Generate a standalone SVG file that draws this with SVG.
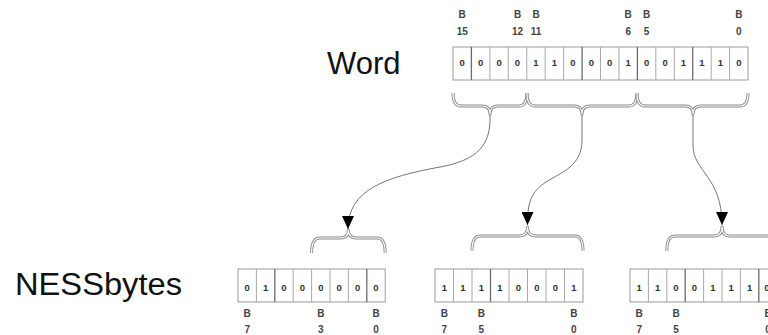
<svg xmlns="http://www.w3.org/2000/svg" width="768" height="335" viewBox="0 0 768 335">
<style>
text{font-family:"Liberation Sans",Arial,sans-serif}
.title{font-size:31px;fill:#111}
.lbl{font-size:10px;font-weight:bold;fill:#444;text-anchor:middle}
.bit{font-size:9.5px;font-weight:bold;fill:#333;text-anchor:middle}
.reg{fill:#fff;stroke:#9a9a9a;stroke-width:1}
.div{stroke:#a8a8a8;stroke-width:1}
.divd{stroke:#6a6a6a;stroke-width:1.3}
.braceo{fill:none;stroke:#8a8a8a;stroke-width:3;stroke-linejoin:round}
.bracei{fill:none;stroke:#fff;stroke-width:1.2;stroke-linejoin:round}
.conn{fill:none;stroke:#777;stroke-width:1}
</style>
<defs>
<marker id="arr" markerUnits="userSpaceOnUse" markerWidth="14" markerHeight="12" refX="13" refY="6" orient="auto">
<path d="M0,0 L13,6 L0,12 z" fill="#000"/>
</marker>
</defs>

<g id="word-label"><text class="title" x="327" y="74">Word</text></g>
<g id="nessbytes-label"><text class="title" x="15" y="295" textLength="167" lengthAdjust="spacingAndGlyphs">NESSbytes</text></g>

<g id="word">
<rect class="reg" x="453" y="47" width="295" height="33"/>
<line class="divd" x1="471.4" y1="47" x2="471.4" y2="80"/>
<line class="div" x1="489.9" y1="47" x2="489.9" y2="80"/>
<line class="div" x1="508.3" y1="47" x2="508.3" y2="80"/>
<line class="div" x1="526.8" y1="47" x2="526.8" y2="80"/>
<line class="div" x1="545.2" y1="47" x2="545.2" y2="80"/>
<line class="div" x1="563.6" y1="47" x2="563.6" y2="80"/>
<line class="divd" x1="582.1" y1="47" x2="582.1" y2="80"/>
<line class="div" x1="600.5" y1="47" x2="600.5" y2="80"/>
<line class="div" x1="619" y1="47" x2="619" y2="80"/>
<line class="divd" x1="637.4" y1="47" x2="637.4" y2="80"/>
<line class="div" x1="655.8" y1="47" x2="655.8" y2="80"/>
<line class="div" x1="674.3" y1="47" x2="674.3" y2="80"/>
<line class="divd" x1="692.7" y1="47" x2="692.7" y2="80"/>
<line class="div" x1="711.2" y1="47" x2="711.2" y2="80"/>
<line class="div" x1="729.6" y1="47" x2="729.6" y2="80"/>
<text class="bit" x="462.2" y="66">0</text>
<text class="bit" x="480.7" y="66">0</text>
<text class="bit" x="499.1" y="66">0</text>
<text class="bit" x="517.5" y="66">0</text>
<text class="bit" x="536" y="66">1</text>
<text class="bit" x="554.4" y="66">1</text>
<text class="bit" x="572.9" y="66">0</text>
<text class="bit" x="591.3" y="66">0</text>
<text class="bit" x="609.7" y="66">0</text>
<text class="bit" x="628.2" y="66">1</text>
<text class="bit" x="646.6" y="66">0</text>
<text class="bit" x="665.1" y="66">0</text>
<text class="bit" x="683.5" y="66">1</text>
<text class="bit" x="701.9" y="66">1</text>
<text class="bit" x="720.4" y="66">1</text>
<text class="bit" x="738.8" y="66">0</text>
<text class="lbl" x="462.2" y="18">B</text><text class="lbl" x="462.2" y="35">15</text>
<text class="lbl" x="517.5" y="18">B</text><text class="lbl" x="517.5" y="35">12</text>
<text class="lbl" x="536" y="18">B</text><text class="lbl" x="536" y="35">11</text>
<text class="lbl" x="628.2" y="18">B</text><text class="lbl" x="628.2" y="35">6</text>
<text class="lbl" x="646.6" y="18">B</text><text class="lbl" x="646.6" y="35">5</text>
<text class="lbl" x="738.8" y="18">B</text><text class="lbl" x="738.8" y="35">0</text>
</g>

<g id="word-braces">
<path class="braceo" d="M453,93 Q453,106 461,106 L482,106 Q490,106 490,114 Q490,106 498,106 L519,106 Q527,106 527,93"/>
<path class="bracei" d="M453,93 Q453,106 461,106 L482,106 Q490,106 490,114 Q490,106 498,106 L519,106 Q527,106 527,93"/>
<path class="braceo" d="M527,93 Q527,106 535,106 L574,106 Q582,106 582,114 Q582,106 590,106 L629,106 Q637,106 637,93"/>
<path class="bracei" d="M527,93 Q527,106 535,106 L574,106 Q582,106 582,114 Q582,106 590,106 L629,106 Q637,106 637,93"/>
<path class="braceo" d="M637,93 Q637,106 645,106 L685,106 Q693,106 693,114 Q693,106 701,106 L740,106 Q748,106 748,93"/>
<path class="bracei" d="M637,93 Q637,106 645,106 L685,106 Q693,106 693,114 Q693,106 701,106 L740,106 Q748,106 748,93"/>
</g>

<g id="byte-left">
<rect class="reg" x="238" y="269" width="147.2" height="33"/>
<line class="div" x1="256.4" y1="269" x2="256.4" y2="302"/>
<line class="divd" x1="274.8" y1="269" x2="274.8" y2="302"/>
<line class="div" x1="293.2" y1="269" x2="293.2" y2="302"/>
<line class="div" x1="311.6" y1="269" x2="311.6" y2="302"/>
<line class="div" x1="330" y1="269" x2="330" y2="302"/>
<line class="div" x1="348.4" y1="269" x2="348.4" y2="302"/>
<line class="divd" x1="366.8" y1="269" x2="366.8" y2="302"/>
<text class="bit" x="247.2" y="291">0</text>
<text class="bit" x="265.6" y="291">1</text>
<text class="bit" x="284" y="291">0</text>
<text class="bit" x="302.4" y="291">0</text>
<text class="bit" x="320.8" y="291">0</text>
<text class="bit" x="339.2" y="291">0</text>
<text class="bit" x="357.6" y="291">0</text>
<text class="bit" x="376" y="291">0</text>
<text class="lbl" x="247.2" y="317">B</text><text class="lbl" x="247.2" y="333">7</text>
<text class="lbl" x="320.8" y="317">B</text><text class="lbl" x="320.8" y="333">3</text>
<text class="lbl" x="376" y="317">B</text><text class="lbl" x="376" y="333">0</text>
<path class="braceo" d="M311.6,253 Q311.6,238 319.6,238 L340.4,238 Q348.4,238 348.4,230 Q348.4,238 356.4,238 L377.2,238 Q385.2,238 385.2,253"/>
<path class="bracei" d="M311.6,253 Q311.6,238 319.6,238 L340.4,238 Q348.4,238 348.4,230 Q348.4,238 356.4,238 L377.2,238 Q385.2,238 385.2,253"/>
</g>

<g id="byte-middle">
<rect class="reg" x="435" y="269" width="148" height="33"/>
<line class="div" x1="453.5" y1="269" x2="453.5" y2="302"/>
<line class="div" x1="472" y1="269" x2="472" y2="302"/>
<line class="divd" x1="490.5" y1="269" x2="490.5" y2="302"/>
<line class="div" x1="509" y1="269" x2="509" y2="302"/>
<line class="div" x1="527.5" y1="269" x2="527.5" y2="302"/>
<line class="div" x1="546" y1="269" x2="546" y2="302"/>
<line class="div" x1="564.5" y1="269" x2="564.5" y2="302"/>
<text class="bit" x="444.3" y="291">1</text>
<text class="bit" x="462.8" y="291">1</text>
<text class="bit" x="481.3" y="291">1</text>
<text class="bit" x="499.8" y="291">1</text>
<text class="bit" x="518.3" y="291">0</text>
<text class="bit" x="536.8" y="291">0</text>
<text class="bit" x="555.3" y="291">0</text>
<text class="bit" x="573.8" y="291">1</text>
<text class="lbl" x="444.3" y="317">B</text><text class="lbl" x="444.3" y="333">7</text>
<text class="lbl" x="481.3" y="317">B</text><text class="lbl" x="481.3" y="333">5</text>
<text class="lbl" x="573.8" y="317">B</text><text class="lbl" x="573.8" y="333">0</text>
<path class="braceo" d="M472,251 Q472,236 480,236 L519.5,236 Q527.5,236 527.5,227 Q527.5,236 535.5,236 L575,236 Q583,236 583,251"/>
<path class="bracei" d="M472,251 Q472,236 480,236 L519.5,236 Q527.5,236 527.5,227 Q527.5,236 535.5,236 L575,236 Q583,236 583,251"/>
</g>

<g id="byte-right">
<rect class="reg" x="630" y="269" width="147.2" height="33"/>
<line class="div" x1="648.4" y1="269" x2="648.4" y2="302"/>
<line class="div" x1="666.8" y1="269" x2="666.8" y2="302"/>
<line class="divd" x1="685.2" y1="269" x2="685.2" y2="302"/>
<line class="div" x1="703.6" y1="269" x2="703.6" y2="302"/>
<line class="div" x1="722" y1="269" x2="722" y2="302"/>
<line class="div" x1="740.4" y1="269" x2="740.4" y2="302"/>
<line class="divd" x1="758.8" y1="269" x2="758.8" y2="302"/>
<text class="bit" x="639.2" y="291">1</text>
<text class="bit" x="657.6" y="291">1</text>
<text class="bit" x="676" y="291">0</text>
<text class="bit" x="694.4" y="291">0</text>
<text class="bit" x="712.8" y="291">1</text>
<text class="bit" x="731.2" y="291">1</text>
<text class="bit" x="749.6" y="291">1</text>
<text class="bit" x="767" y="291">0</text>
<text class="lbl" x="768" y="317">B</text><text class="lbl" x="768" y="333">0</text>
<text class="lbl" x="639.2" y="317">B</text><text class="lbl" x="639.2" y="333">7</text>
<text class="lbl" x="676" y="317">B</text><text class="lbl" x="676" y="333">5</text>
<path class="braceo" d="M666.8,251 Q666.8,236 674.8,236 L714,236 Q722,236 722,227 Q722,236 730,236 L769,236 Q777,236 777,251"/>
<path class="bracei" d="M666.8,251 Q666.8,236 674.8,236 L714,236 Q722,236 722,227 Q722,236 730,236 L769,236 Q777,236 777,251"/>
</g>

<g id="connectors">
<path class="conn" marker-end="url(#arr)" d="M490,115 C491,145 478,160 440,167 C385,177 348,190 348,229"/>
<path class="conn" marker-end="url(#arr)" d="M582,115 L582,140 C582,166 562,172 546,182 C531,192 527.5,202 527.5,225"/>
<path class="conn" marker-end="url(#arr)" d="M693,115 L693,145 C693,172 722,176 722,225"/>
</g>
</svg>
